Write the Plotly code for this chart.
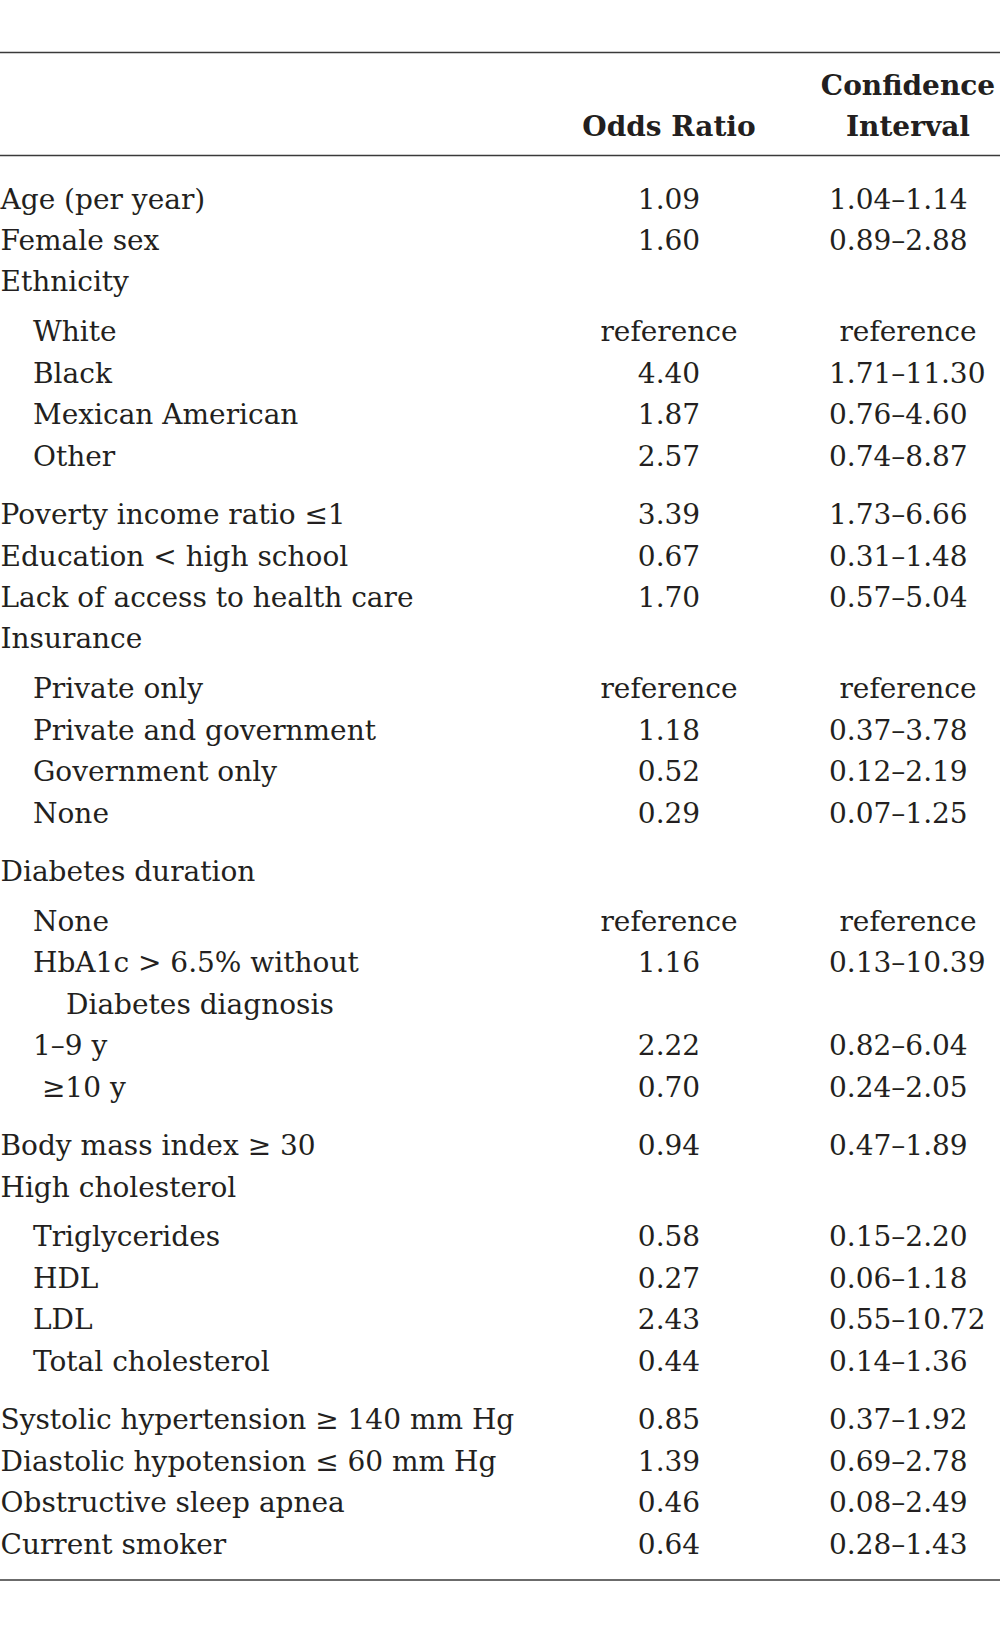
import plotly.graph_objects as go

# ---------------- data ----------------
labels = [
    "Age (per year)", "Female sex", "Ethnicity", "White", "Black",
    "Mexican American", "Other", "Poverty income ratio ≤1",
    "Education < high school", "Lack of access to health care", "Insurance",
    "Private only", "Private and government", "Government only", "None",
    "Diabetes duration", "None", "HbA1c > 6.5% without", "Diabetes diagnosis",
    "1–9 y", "\u00a0≥10 y", "Body mass index ≥ 30", "High cholesterol",
    "Triglycerides", "HDL", "LDL", "Total cholesterol",
    "Systolic hypertension ≥ 140 mm Hg", "Diastolic hypotension ≤ 60 mm Hg",
    "Obstructive sleep apnea", "Current smoker",
]
odds_ratio = [
    "1.09", "1.60", "", "reference", "4.40", "1.87", "2.57", "3.39", "0.67",
    "1.70", "", "reference", "1.18", "0.52", "0.29", "", "reference", "1.16",
    "", "2.22", "0.70", "0.94", "", "0.58", "0.27", "2.43", "0.44", "0.85",
    "1.39", "0.46", "0.64",
]
conf_int = [
    "1.04–1.14", "0.89–2.88", "", "reference", "1.71–11.30", "0.76–4.60",
    "0.74–8.87", "1.73–6.66", "0.31–1.48", "0.57–5.04", "", "reference",
    "0.37–3.78", "0.12–2.19", "0.07–1.25", "", "reference", "0.13–10.39", "",
    "0.82–6.04", "0.24–2.05", "0.47–1.89", "", "0.15–2.20", "0.06–1.18",
    "0.55–10.72", "0.14–1.36", "0.37–1.92", "0.69–2.78", "0.08–2.49",
    "0.28–1.43",
]
# row structure: 0 = main row, 1 = sub-item, 2 = wrapped continuation
level = [0, 0, 0, 1, 1, 1, 1, 0, 0, 0, 0, 1, 1, 1, 1, 0, 1, 1, 2, 1, 1,
         0, 0, 1, 1, 1, 1, 0, 0, 0, 0]
is_group_header = [False, False, True] + [False] * 7 + [True] + [False] * 4 + [True] \
    + [False] * 6 + [True] + [False] * 8
is_group_end = [False] * 6 + [True] + [False] * 7 + [True] + [False] * 5 + [True] \
    + [False] * 5 + [True] + [False] * 4
header_or = "Odds Ratio"
header_ci = ["Confidence", "Interval"]

# ---------------- layout constants ----------------
W, H = 1000, 1625
FONT = "DejaVu Serif"
FS = 28
TXT = "#231f20"
Y0, STEP, HEAD_GAP, END_GAP = 201.5, 41.45, 8.3, 17.1
X_LABEL = [0.5, 33, 66]
X_OR, X_CI_LEFT, X_CI_CENTER = 669, 829, 908

ys = []
y = Y0
for i in range(len(labels)):
    if i > 0:
        y += STEP
        if is_group_header[i - 1]:
            y += HEAD_GAP
        if is_group_end[i - 1]:
            y += END_GAP
    ys.append(y)

common = dict(mode="text", hoverinfo="skip", showlegend=False, cliponaxis=False,
              textfont=dict(family=FONT, size=FS, color=TXT))

fig = go.Figure()
fig.add_trace(go.Scatter(
    x=[X_LABEL[l] for l in level], y=ys, text=labels,
    textposition="middle right", **common))
fig.add_trace(go.Scatter(
    x=[X_OR] * len(odds_ratio), y=ys, text=odds_ratio,
    textposition="middle center", **common))
fig.add_trace(go.Scatter(
    x=[X_CI_CENTER if c == "reference" else X_CI_LEFT for c in conf_int],
    y=ys, text=conf_int,
    textposition=["middle center" if c == "reference" else "middle right" for c in conf_int],
    **common))
# header
fig.add_trace(go.Scatter(
    x=[X_OR, X_CI_CENTER, X_CI_CENTER], y=[129, 88, 129],
    text=[f"<b>{header_or}</b>"] + [f"<b>{h}</b>" for h in header_ci],
    textposition="middle center", **common))

for yl in (52.5, 155.5, 1580):
    fig.add_shape(type="line", x0=0, x1=W, y0=yl, y1=yl, xref="x", yref="y",
                  line=dict(color="#3a3a3a", width=1.5))

fig.update_layout(
    width=W, height=H, margin=dict(l=0, r=0, t=0, b=0),
    paper_bgcolor="white", plot_bgcolor="white",
    xaxis=dict(range=[0, W], visible=False, fixedrange=True),
    yaxis=dict(range=[H, 0], visible=False, fixedrange=True),
)
fig.write_html("out.html", config={"displayModeBar": False},
               post_script="document.body.style.margin='0';document.body.style.overflow='hidden';")
